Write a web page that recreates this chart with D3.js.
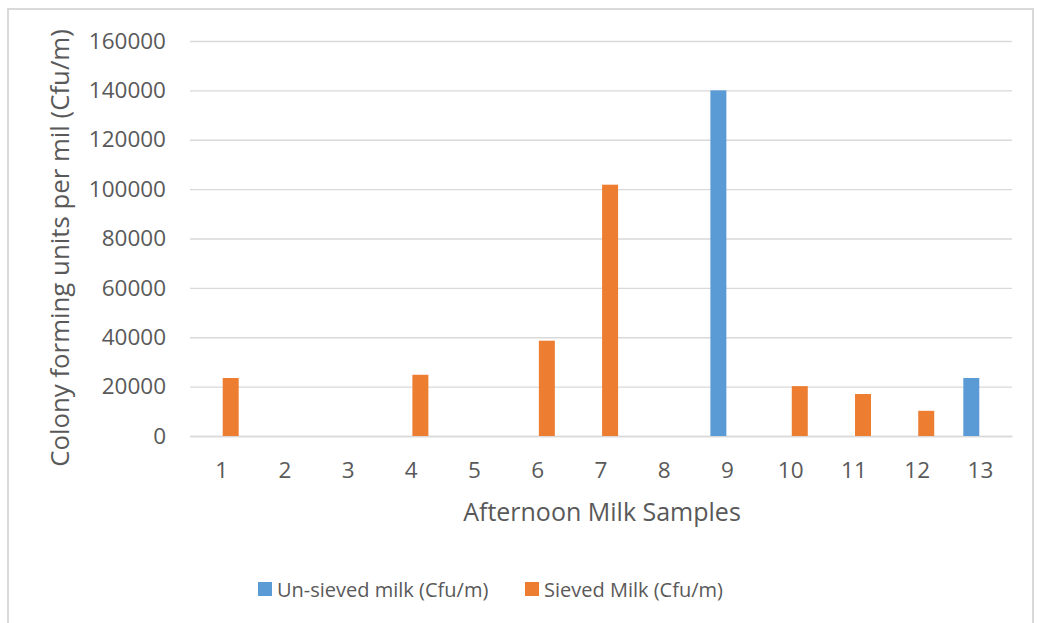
<!DOCTYPE html>
<html>
<head>
<meta charset="utf-8">
<script src="https://cdn.jsdelivr.net/npm/d3@7"></script>
<style>
  html, body { margin: 0; padding: 0; background: #fff; }
  svg { display: block; }
  text { font-family: "Open Sans", "DejaVu Sans", sans-serif; fill: #595959; }
</style>
</head>
<body>
<svg id="chart" width="1037" height="623"></svg>
<script>
const categories = ["1","2","3","4","5","6","7","8","9","10","11","12","13"];
const seriesNames = ["Un-sieved milk (Cfu/m)", "Sieved Milk (Cfu/m)"];
const unsieved = [0, 0, 0, 0, 0, 0, 0, 0, 140000, 0, 0, 0, 23500];
const sieved   = [23500, 0, 0, 24800, 0, 38600, 101800, 0, 0, 20200, 17000, 10200, 0];
const yTicks = [0, 20000, 40000, 60000, 80000, 100000, 120000, 140000, 160000];
const colors = ["#5b9bd5", "#ed7d31"];

const svg = d3.select("#chart");

// outer chart border
svg.append("rect")
  .attr("x", 8).attr("y", 9).attr("width", 1025).attr("height", 640)
  .attr("fill", "none").attr("stroke", "#d9d9d9").attr("stroke-width", 2);

const plotLeft = 190, plotRight = 1012, plotTop = 41, plotBottom = 436;

const x0 = d3.scaleBand().domain(categories).range([plotLeft, plotRight])
  .paddingInner(0.46).paddingOuter(0.23);
const x1 = d3.scaleBand().domain(seriesNames).range([0, x0.bandwidth()]).paddingInner(0.12);
const y = d3.scaleLinear().domain([0, 160000]).range([plotBottom, plotTop]);

// gridlines
const yAxis = d3.axisLeft(y).tickValues(yTicks).tickSize(-(plotRight - plotLeft)).tickPadding(24)
  .tickFormat(d3.format("d"));
const gy = svg.append("g").attr("transform", `translate(${plotLeft},0)`).call(yAxis);
gy.select(".domain").remove();
gy.selectAll(".tick line").attr("stroke", "#d9d9d9").attr("stroke-width", 1.3);
gy.selectAll(".tick text").attr("font-size", 22.5).attr("fill", "#595959")
  .style("font-family", '"Open Sans", sans-serif');

// x axis labels
const xAxis = d3.axisBottom(x0).tickSize(0).tickPadding(26);
const gx = svg.append("g").attr("transform", `translate(0,${plotBottom})`).call(xAxis);
gx.select(".domain").attr("stroke", "#d9d9d9").attr("stroke-width", 1.3);
gx.selectAll(".tick text").attr("font-size", 22.5).attr("fill", "#595959")
  .style("font-family", '"Open Sans", sans-serif');

// bars
const rows = categories.map((c, i) => ({ cat: c, vals: [unsieved[i], sieved[i]] }));
const groups = svg.append("g").selectAll("g").data(rows).join("g")
  .attr("transform", d => `translate(${x0(d.cat)},0)`);
groups.selectAll("rect")
  .data(d => d.vals.map((v, k) => ({ name: seriesNames[k], v, k })).filter(e => e.v > 0))
  .join("rect")
  .attr("x", e => x1(e.name))
  .attr("width", x1.bandwidth())
  .attr("y", e => y(e.v))
  .attr("height", e => y(0) - y(e.v))
  .attr("fill", e => colors[e.k]);

// axis titles
svg.append("text")
  .attr("x", 602).attr("y", 521)
  .attr("text-anchor", "middle")
  .attr("font-size", 25)
  .text("Afternoon Milk Samples");

svg.append("text")
  .attr("transform", `translate(69,248) rotate(-90)`)
  .attr("text-anchor", "middle")
  .attr("font-size", 25.8)
  .text("Colony forming units per mil (Cfu/m)");

// legend
const legendItems = [
  { name: seriesNames[0], color: colors[0], x: 258 },
  { name: seriesNames[1], color: colors[1], x: 525 }
];
const lg = svg.append("g");
legendItems.forEach(it => {
  lg.append("rect").attr("x", it.x).attr("y", 582).attr("width", 14).attr("height", 14)
    .attr("fill", it.color);
  lg.append("text").attr("x", it.x + 19).attr("y", 597)
    .attr("font-size", 20).text(it.name);
});
</script>
</body>
</html>
